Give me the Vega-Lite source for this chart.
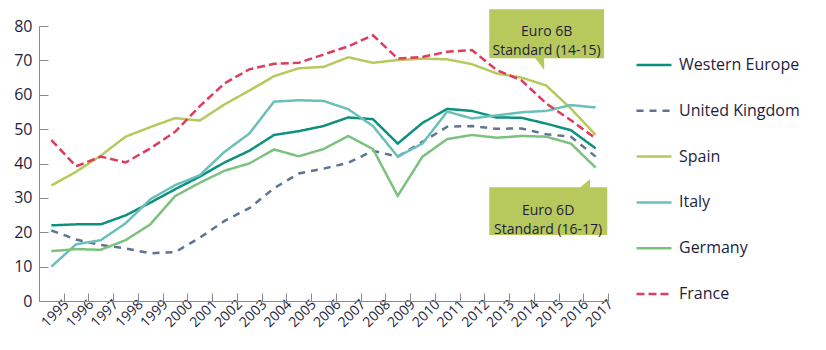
{
  "$schema": "https://vega.github.io/schema/vega-lite/v6.json",
  "width": 569,
  "height": 275,
  "autosize": {"type": "none"},
  "padding": {"left": 39, "top": 26, "right": 218, "bottom": 49},
  "config": {
    "font": "Open Sans",
    "view": {"stroke": null},
    "axis": {"domainColor": "#8a8a8a", "tickColor": "#8a8a8a", "labelColor": "#1e1e3c", "grid": false, "title": null}
  },
  "datasets": {
    "series": [
      {"year": "1995", "s": "Western Europe", "v": 22.0},
      {"year": "1996", "s": "Western Europe", "v": 22.3},
      {"year": "1997", "s": "Western Europe", "v": 22.3},
      {"year": "1998", "s": "Western Europe", "v": 24.9},
      {"year": "1999", "s": "Western Europe", "v": 28.6},
      {"year": "2000", "s": "Western Europe", "v": 32.5},
      {"year": "2001", "s": "Western Europe", "v": 36.2},
      {"year": "2002", "s": "Western Europe", "v": 40.3},
      {"year": "2003", "s": "Western Europe", "v": 43.7},
      {"year": "2004", "s": "Western Europe", "v": 48.3},
      {"year": "2005", "s": "Western Europe", "v": 49.4},
      {"year": "2006", "s": "Western Europe", "v": 50.9},
      {"year": "2007", "s": "Western Europe", "v": 53.4},
      {"year": "2008", "s": "Western Europe", "v": 52.9},
      {"year": "2009", "s": "Western Europe", "v": 45.8},
      {"year": "2010", "s": "Western Europe", "v": 51.8},
      {"year": "2011", "s": "Western Europe", "v": 55.9},
      {"year": "2012", "s": "Western Europe", "v": 55.3},
      {"year": "2013", "s": "Western Europe", "v": 53.4},
      {"year": "2014", "s": "Western Europe", "v": 53.3},
      {"year": "2015", "s": "Western Europe", "v": 51.6},
      {"year": "2016", "s": "Western Europe", "v": 49.7},
      {"year": "2017", "s": "Western Europe", "v": 44.4},
      {"year": "1995", "s": "United Kingdom", "v": 20.5},
      {"year": "1996", "s": "United Kingdom", "v": 17.9},
      {"year": "1997", "s": "United Kingdom", "v": 16.3},
      {"year": "1998", "s": "United Kingdom", "v": 15.3},
      {"year": "1999", "s": "United Kingdom", "v": 13.9},
      {"year": "2000", "s": "United Kingdom", "v": 14.2},
      {"year": "2001", "s": "United Kingdom", "v": 18.4},
      {"year": "2002", "s": "United Kingdom", "v": 23.3},
      {"year": "2003", "s": "United Kingdom", "v": 27.0},
      {"year": "2004", "s": "United Kingdom", "v": 32.8},
      {"year": "2005", "s": "United Kingdom", "v": 37.1},
      {"year": "2006", "s": "United Kingdom", "v": 38.5},
      {"year": "2007", "s": "United Kingdom", "v": 40.2},
      {"year": "2008", "s": "United Kingdom", "v": 43.7},
      {"year": "2009", "s": "United Kingdom", "v": 42.0},
      {"year": "2010", "s": "United Kingdom", "v": 46.3},
      {"year": "2011", "s": "United Kingdom", "v": 50.7},
      {"year": "2012", "s": "United Kingdom", "v": 50.9},
      {"year": "2013", "s": "United Kingdom", "v": 50.1},
      {"year": "2014", "s": "United Kingdom", "v": 50.2},
      {"year": "2015", "s": "United Kingdom", "v": 48.5},
      {"year": "2016", "s": "United Kingdom", "v": 47.8},
      {"year": "2017", "s": "United Kingdom", "v": 42.0},
      {"year": "1995", "s": "Spain", "v": 33.6},
      {"year": "1996", "s": "Spain", "v": 37.6},
      {"year": "1997", "s": "Spain", "v": 42.3},
      {"year": "1998", "s": "Spain", "v": 47.8},
      {"year": "1999", "s": "Spain", "v": 50.6},
      {"year": "2000", "s": "Spain", "v": 53.2},
      {"year": "2001", "s": "Spain", "v": 52.5},
      {"year": "2002", "s": "Spain", "v": 57.2},
      {"year": "2003", "s": "Spain", "v": 61.2},
      {"year": "2004", "s": "Spain", "v": 65.4},
      {"year": "2005", "s": "Spain", "v": 67.7},
      {"year": "2006", "s": "Spain", "v": 68.1},
      {"year": "2007", "s": "Spain", "v": 70.9},
      {"year": "2008", "s": "Spain", "v": 69.3},
      {"year": "2009", "s": "Spain", "v": 70.1},
      {"year": "2010", "s": "Spain", "v": 70.5},
      {"year": "2011", "s": "Spain", "v": 70.3},
      {"year": "2012", "s": "Spain", "v": 68.9},
      {"year": "2013", "s": "Spain", "v": 66.2},
      {"year": "2014", "s": "Spain", "v": 65.0},
      {"year": "2015", "s": "Spain", "v": 62.7},
      {"year": "2016", "s": "Spain", "v": 56.0},
      {"year": "2017", "s": "Spain", "v": 48.3},
      {"year": "1995", "s": "Italy", "v": 10.0},
      {"year": "1996", "s": "Italy", "v": 16.5},
      {"year": "1997", "s": "Italy", "v": 17.7},
      {"year": "1998", "s": "Italy", "v": 22.6},
      {"year": "1999", "s": "Italy", "v": 29.6},
      {"year": "2000", "s": "Italy", "v": 33.7},
      {"year": "2001", "s": "Italy", "v": 36.6},
      {"year": "2002", "s": "Italy", "v": 43.4},
      {"year": "2003", "s": "Italy", "v": 48.7},
      {"year": "2004", "s": "Italy", "v": 58.0},
      {"year": "2005", "s": "Italy", "v": 58.4},
      {"year": "2006", "s": "Italy", "v": 58.2},
      {"year": "2007", "s": "Italy", "v": 55.8},
      {"year": "2008", "s": "Italy", "v": 50.9},
      {"year": "2009", "s": "Italy", "v": 42.0},
      {"year": "2010", "s": "Italy", "v": 45.8},
      {"year": "2011", "s": "Italy", "v": 55.1},
      {"year": "2012", "s": "Italy", "v": 53.1},
      {"year": "2013", "s": "Italy", "v": 54.0},
      {"year": "2014", "s": "Italy", "v": 54.9},
      {"year": "2015", "s": "Italy", "v": 55.3},
      {"year": "2016", "s": "Italy", "v": 57.0},
      {"year": "2017", "s": "Italy", "v": 56.3},
      {"year": "1995", "s": "Germany", "v": 14.5},
      {"year": "1996", "s": "Germany", "v": 15.1},
      {"year": "1997", "s": "Germany", "v": 14.9},
      {"year": "1998", "s": "Germany", "v": 17.7},
      {"year": "1999", "s": "Germany", "v": 22.3},
      {"year": "2000", "s": "Germany", "v": 30.5},
      {"year": "2001", "s": "Germany", "v": 34.4},
      {"year": "2002", "s": "Germany", "v": 37.9},
      {"year": "2003", "s": "Germany", "v": 40.0},
      {"year": "2004", "s": "Germany", "v": 44.1},
      {"year": "2005", "s": "Germany", "v": 42.1},
      {"year": "2006", "s": "Germany", "v": 44.2},
      {"year": "2007", "s": "Germany", "v": 48.0},
      {"year": "2008", "s": "Germany", "v": 44.2},
      {"year": "2009", "s": "Germany", "v": 30.6},
      {"year": "2010", "s": "Germany", "v": 42.0},
      {"year": "2011", "s": "Germany", "v": 47.1},
      {"year": "2012", "s": "Germany", "v": 48.3},
      {"year": "2013", "s": "Germany", "v": 47.5},
      {"year": "2014", "s": "Germany", "v": 48.0},
      {"year": "2015", "s": "Germany", "v": 47.8},
      {"year": "2016", "s": "Germany", "v": 45.8},
      {"year": "2017", "s": "Germany", "v": 38.8},
      {"year": "1995", "s": "France", "v": 46.8},
      {"year": "1996", "s": "France", "v": 39.2},
      {"year": "1997", "s": "France", "v": 42.0},
      {"year": "1998", "s": "France", "v": 40.3},
      {"year": "1999", "s": "France", "v": 44.4},
      {"year": "2000", "s": "France", "v": 49.2},
      {"year": "2001", "s": "France", "v": 56.7},
      {"year": "2002", "s": "France", "v": 63.3},
      {"year": "2003", "s": "France", "v": 67.4},
      {"year": "2004", "s": "France", "v": 69.0},
      {"year": "2005", "s": "France", "v": 69.3},
      {"year": "2006", "s": "France", "v": 71.7},
      {"year": "2007", "s": "France", "v": 74.1},
      {"year": "2008", "s": "France", "v": 77.3},
      {"year": "2009", "s": "France", "v": 70.5},
      {"year": "2010", "s": "France", "v": 71.0},
      {"year": "2011", "s": "France", "v": 72.5},
      {"year": "2012", "s": "France", "v": 73.0},
      {"year": "2013", "s": "France", "v": 67.2},
      {"year": "2014", "s": "France", "v": 64.2},
      {"year": "2015", "s": "France", "v": 57.5},
      {"year": "2016", "s": "France", "v": 52.6},
      {"year": "2017", "s": "France", "v": 47.3}
    ],
    "boxes": [
      {"id": "6B", "x1": 2012.7, "x2": 2017.34, "y1": 70.6, "y2": 84.86},
      {"id": "6D", "x1": 2012.7, "x2": 2017.47, "y1": 19.2, "y2": 33.08}
    ],
    "tails": [
      {"id": "6B", "x": 2014.52, "y": 71.0, "y2": 71.0},
      {"id": "6B", "x": 2014.92, "y": 67.2, "y2": 71.0},
      {"id": "6D", "x": 2016.33, "y": 32.7, "y2": 32.7},
      {"id": "6D", "x": 2016.77, "y": 32.7, "y2": 35.49}
    ],
    "labels": [
      {"id": "6B", "x": 2015.02, "y": 78.25, "text": ["Euro 6B", "Standard (14-15)"]},
      {"id": "6D", "x": 2015.08, "y": 26.3, "text": ["Euro 6D", "Standard (16-17)"]}
    ]
  },
  "layer": [
    {
      "data": {"name": "series"},
      "mark": {"type": "line", "strokeWidth": 2.5},
      "encoding": {
        "x": {
          "field": "year", "type": "ordinal", "bandPosition": 0.5,
          "scale": {"type": "band", "paddingInner": 0, "paddingOuter": 0},
          "axis": {
            "labelAngle": -45, "labelAlign": "right", "labelBaseline": "top",
            "labelOffset": 10, "labelPadding": 4, "tickBand": "extent",
            "tickSize": -8, "labelFontSize": 14, "labelOverlap": false
          }
        },
        "y": {
          "field": "v", "type": "quantitative",
          "scale": {"domain": [0, 80]},
          "axis": {"values": [0, 10, 20, 30, 40, 50, 60, 70, 80], "tickSize": -9, "labelPadding": 16, "labelFontSize": 16, "labelOverlap": false}
        },
        "color": {
          "field": "s", "type": "nominal",
          "scale": {
            "domain": ["Western Europe", "United Kingdom", "Spain", "Italy", "Germany", "France"],
            "range": ["#0b917e", "#5f7395", "#b7c95c", "#6bbfb9", "#7cc27e", "#e03a5c"]
          },
          "legend": {
            "title": null, "orient": "none", "legendX": 596, "legendY": 20,
            "symbolType": "stroke", "symbolSize": 1225, "symbolStrokeWidth": 2.5,
            "labelFontSize": 16, "labelColor": "#1e1e3c", "rowPadding": 18.8, "labelOffset": 6, "padding": 0
          }
        },
        "strokeDash": {
          "field": "s", "type": "nominal",
          "scale": {
            "domain": ["Western Europe", "United Kingdom", "Spain", "Italy", "Germany", "France"],
            "range": [[1, 0], [7, 6], [1, 0], [1, 0], [1, 0], [8, 4]]
          },
          "legend": {
            "title": null, "orient": "none", "legendX": 596, "legendY": 20,
            "symbolType": "stroke", "symbolSize": 1225, "symbolStrokeWidth": 2.5,
            "labelFontSize": 16, "labelColor": "#1e1e3c", "rowPadding": 18.8, "labelOffset": 6, "padding": 0
          }
        }
      }
    },
    {
      "layer": [
        {
          "data": {"name": "boxes"},
          "mark": {"type": "rect", "color": "#b7c95c"},
          "encoding": {
            "x": {"field": "x1", "type": "quantitative", "scale": {"domain": [1994.5, 2017.5], "nice": false, "zero": false}, "axis": null},
            "x2": {"field": "x2"},
            "y": {"field": "y1", "type": "quantitative", "scale": {"domain": [0, 80]}, "axis": null},
            "y2": {"field": "y2"}
          }
        },
        {
          "data": {"name": "tails"},
          "mark": {"type": "area", "color": "#b7c95c", "orient": "vertical"},
          "encoding": {
            "x": {"field": "x", "type": "quantitative", "scale": {"domain": [1994.5, 2017.5], "nice": false, "zero": false}, "axis": null},
            "y": {"field": "y", "type": "quantitative", "scale": {"domain": [0, 80]}, "axis": null},
            "y2": {"field": "y2"},
            "detail": {"field": "id"}
          }
        },
        {
          "data": {"name": "labels"},
          "mark": {"type": "text", "fontSize": 14, "color": "#1e1e3c", "align": "center", "baseline": "middle", "lineHeight": 19},
          "encoding": {
            "x": {"field": "x", "type": "quantitative", "scale": {"domain": [1994.5, 2017.5], "nice": false, "zero": false}, "axis": null},
            "y": {"field": "y", "type": "quantitative", "scale": {"domain": [0, 80]}, "axis": null},
            "text": {"field": "text"}
          }
        }
      ]
    }
  ],
  "resolve": {"scale": {"x": "independent"}, "axis": {"y": "independent"}}
}
